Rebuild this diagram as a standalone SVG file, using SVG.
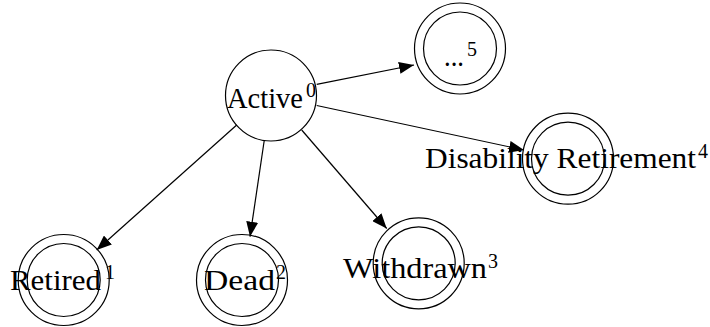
<svg xmlns="http://www.w3.org/2000/svg" width="710" height="327" viewBox="0 0 710 327">
  <style>
    .ring { fill: none; stroke: #000; stroke-width: 1.2; }
    .edge { fill: none; stroke: #000; stroke-width: 1.2; }
    .lbl { font-family: "Liberation Serif", "DejaVu Serif", serif; font-size: 29px; fill: #000; }
    .sup { font-family: "Liberation Serif", "DejaVu Serif", serif; font-size: 20px; fill: #000; }
  </style>
  <defs>
    <marker id="arrow" markerUnits="userSpaceOnUse" markerWidth="16" markerHeight="12" refX="15" refY="6" orient="auto">
      <path d="M0,0 L15,6 L0,12 z" fill="#000"/>
    </marker>
  </defs>
  <rect width="710" height="327" fill="#fff"/>

  <g id="edges">
    <path class="edge" d="M316.7,84.3 L414,65" marker-end="url(#arrow)"/>
    <path class="edge" d="M316.7,105.5 L524,150" marker-end="url(#arrow)"/>
    <path class="edge" d="M236.7,125 L96.7,250" marker-end="url(#arrow)"/>
    <path class="edge" d="M264.3,140 L250,236.7" marker-end="url(#arrow)"/>
    <path class="edge" d="M301.7,130 L386.7,228.5" marker-end="url(#arrow)"/>
  </g>

  <g id="active">
    <circle class="ring" cx="271" cy="95.5" r="45.5"/>
    <text class="lbl" x="227" y="108.3" textLength="76" lengthAdjust="spacingAndGlyphs">Active</text>
    <text class="sup" x="306" y="97">0</text>
  </g>

  <g id="more">
    <circle class="ring" cx="460" cy="48.5" r="45.5"/>
    <circle class="ring" cx="460" cy="48.5" r="36.5"/>
    <text class="lbl" x="444" y="66" textLength="20" lengthAdjust="spacingAndGlyphs">...</text>
    <text class="sup" x="467" y="55.5">5</text>
  </g>

  <g id="disability">
    <circle class="ring" cx="568" cy="158.7" r="45.5"/>
    <circle class="ring" cx="568" cy="158.7" r="36.5"/>
    <text class="lbl" x="425" y="168.3" textLength="271" lengthAdjust="spacingAndGlyphs">Disability Retirement</text>
    <text class="sup" x="698" y="158">4</text>
  </g>

  <g id="retired">
    <circle class="ring" cx="63.7" cy="280" r="45.5"/>
    <circle class="ring" cx="63.7" cy="280" r="36.5"/>
    <text class="lbl" x="10" y="290" textLength="91" lengthAdjust="spacingAndGlyphs">Retired</text>
    <text class="sup" x="105" y="279">1</text>
  </g>

  <g id="dead">
    <circle class="ring" cx="242" cy="280" r="45.5"/>
    <circle class="ring" cx="242" cy="280" r="36.5"/>
    <text class="lbl" x="204" y="290" textLength="71" lengthAdjust="spacingAndGlyphs">Dead</text>
    <text class="sup" x="276" y="279">2</text>
  </g>

  <g id="withdrawn">
    <circle class="ring" cx="418.7" cy="263.3" r="45.5"/>
    <circle class="ring" cx="418.7" cy="263.3" r="36.5"/>
    <text class="lbl" x="343" y="278.3" textLength="144" lengthAdjust="spacingAndGlyphs">Withdrawn</text>
    <text class="sup" x="488" y="268">3</text>
  </g>
</svg>
